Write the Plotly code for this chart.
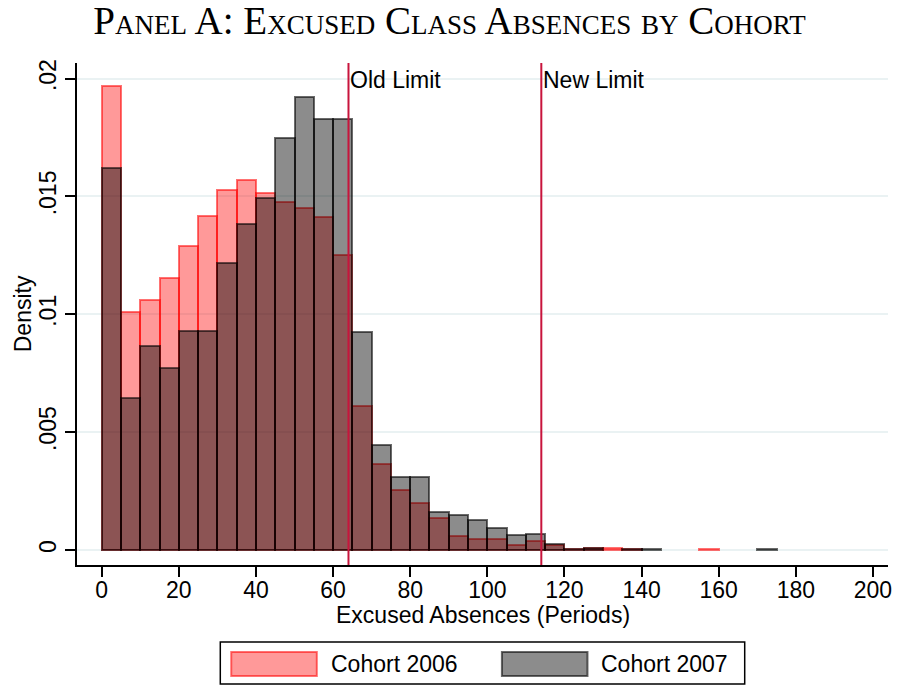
import plotly.graph_objects as go

bin_left = [0, 5, 10, 15, 20, 25, 30, 35, 40, 45, 50, 55, 60, 65, 70, 75, 80, 85,
            90, 95, 100, 105, 110, 115, 120, 125, 130, 135, 140, 145, 150, 155,
            160, 165, 170]
bin_width = 5
cohort_2006 = [0.01969, 0.01008, 0.01059, 0.01152, 0.01289, 0.01416, 0.01526, 0.01568,
               0.01513, 0.01476, 0.01450, 0.01412, 0.01251, 0.00609, 0.00365, 0.00255,
               0.00197, 0.00135, 0.00057, 0.00048, 0.00048, 0.00021, 0.00037, 0.00022,
               0.00003, 0.00007, 0.00007, 0.00004, None, None, None, 0.00004,
               None, None, None]
cohort_2007 = [0.01620, 0.00643, 0.00867, 0.00770, 0.00928, 0.00928, 0.01217, 0.01382,
               0.01493, 0.01748, 0.01921, 0.01829, 0.01829, 0.00926, 0.00446, 0.00310,
               0.00310, 0.00159, 0.00149, 0.00126, 0.00092, 0.00062, 0.00069, 0.00025,
               0.00005, 0.00007, None, 0.00004, 0.00004, None, None, None,
               None, None, 0.00004]
limits = [64, 114]
limit_labels = ["Old Limit", "New Limit"]
y_ticks = [0, 0.005, 0.01, 0.015, 0.02]
y_tick_labels = ["0", ".005", ".01", ".015", ".02"]
x_ticks = [0, 20, 40, 60, 80, 100, 120, 140, 160, 180, 200]

centers = [b + bin_width / 2 for b in bin_left]

RED_FILL = "rgba(255,0,0,0.4)"
RED_LINE = "rgba(255,0,0,0.55)"
GRAY_FILL = "rgba(0,0,0,0.45)"
GRAY_LINE = "rgba(0,0,0,0.58)"
LIMIT_COLOR = "#C8143C"
FONT = "Liberation Sans, Arial, sans-serif"
FS = 23

fig = go.Figure()
fig.add_trace(go.Bar(x=centers, y=cohort_2006, width=bin_width, name="Cohort 2006",
                     marker=dict(color=RED_FILL, line=dict(color=RED_LINE, width=2))))
fig.add_trace(go.Bar(x=centers, y=cohort_2007, width=bin_width, name="Cohort 2007",
                     marker=dict(color=GRAY_FILL, line=dict(color=GRAY_LINE, width=2))))

for xv, lab in zip(limits, limit_labels):
    fig.add_shape(type="line", xref="x", yref="paper", x0=xv, x1=xv, y0=0, y1=1,
                  line=dict(color=LIMIT_COLOR, width=2))
    fig.add_annotation(x=xv, xref="x", y=1, yref="paper", yanchor="top", xanchor="left",
                       xshift=0, yshift=-2, text=lab, showarrow=False,
                       font=dict(family=FONT, size=FS, color="black"))

# pixel -> paper helpers (plot area: x 77..892, y 63..565)
def px_to_paper_x(px):
    return (px - 77) / 815

def px_to_paper_y(py):
    return (565 - py) / 502

# axis titles
fig.add_annotation(xref="paper", yref="paper", x=0.5, y=px_to_paper_y(615),
                   xanchor="center", yanchor="middle", showarrow=False,
                   text="Excused Absences (Periods)",
                   font=dict(family=FONT, size=FS, color="black"))
fig.add_annotation(xref="paper", yref="paper", x=px_to_paper_x(23), y=0.5,
                   xanchor="center", yanchor="middle", showarrow=False, textangle=-90,
                   text="Density", font=dict(family=FONT, size=FS, color="black"))

# manual legend (wide swatches)
fig.add_shape(type="rect", xref="paper", yref="paper",
              x0=px_to_paper_x(221), x1=px_to_paper_x(748),
              y0=px_to_paper_y(684), y1=px_to_paper_y(642),
              line=dict(color="black", width=1.5), fillcolor="white")
legend_items = [("Cohort 2006", RED_FILL, RED_LINE, 232), ("Cohort 2007", GRAY_FILL, GRAY_LINE, 504)]
for name, fc, lc, x0 in legend_items:
    fig.add_shape(type="rect", xref="paper", yref="paper",
                  x0=px_to_paper_x(x0), x1=px_to_paper_x(x0 + 86),
                  y0=px_to_paper_y(676), y1=px_to_paper_y(652),
                  line=dict(color=lc, width=2), fillcolor=fc)
    fig.add_annotation(xref="paper", yref="paper", x=px_to_paper_x(x0 + 98),
                       y=px_to_paper_y(664), xanchor="left", yanchor="middle",
                       text=name, showarrow=False,
                       font=dict(family=FONT, size=FS, color="black"))

fig.update_layout(
    width=899, height=686,
    margin=dict(l=77, r=7, t=63, b=121),
    paper_bgcolor="white", plot_bgcolor="white",
    barmode="overlay", bargap=0, showlegend=False,
    title=dict(text="Panel A: Excused Class Absences by Cohort", x=0.5, xanchor="center",
               y=1 - 20 / 686, yanchor="middle",
               font=dict(family="Liberation Serif, serif", size=39, color="black",
                         variant="small-caps")),
    font=dict(family=FONT, size=FS, color="black"),
)
fig.update_xaxes(range=[-6.4, 203.9], tickvals=x_ticks, ticks="outside", ticklen=10,
                 tickwidth=1.5, tickcolor="black", showline=True, linecolor="black",
                 linewidth=1.5, showgrid=False, zeroline=False, ticklabelstandoff=-6,
                 tickfont=dict(family=FONT, size=FS))
fig.update_yaxes(range=[-0.00064, 0.02066], tickvals=y_ticks, ticktext=y_tick_labels,
                 tickangle=-90, ticks="outside", ticklen=10, tickwidth=1.5,
                 tickcolor="black", showline=True, linecolor="black", linewidth=1.5,
                 showgrid=True, gridcolor="#EAF2F3", gridwidth=1.5, zeroline=False,
                 tickfont=dict(family=FONT, size=FS))

fig.write_html("out.html", config={"displayModeBar": False},
               post_script="document.body.style.margin='0';")
